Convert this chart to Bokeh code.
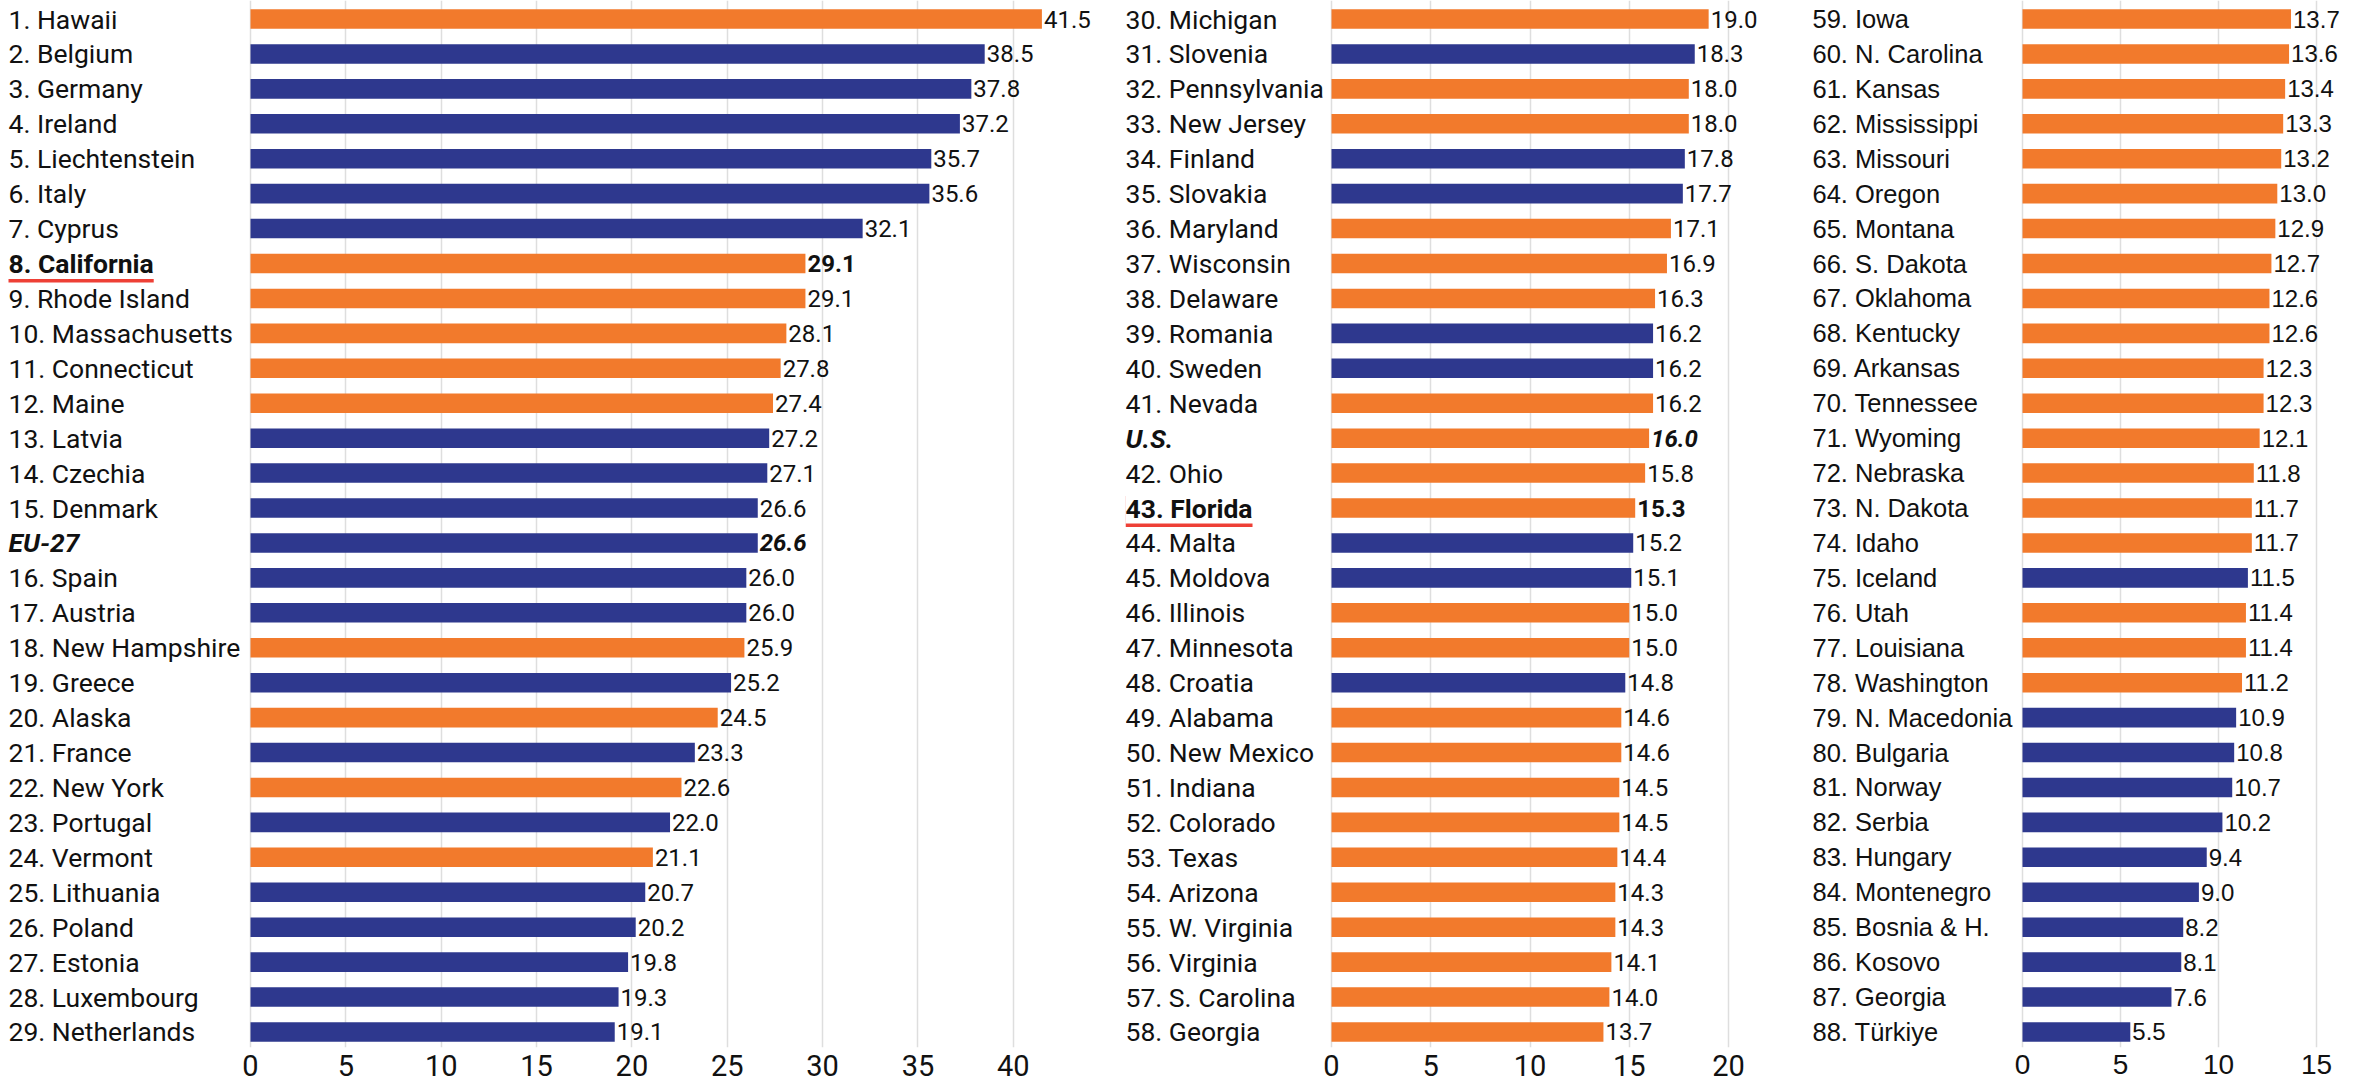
from bokeh.plotting import figure
from bokeh.layouts import row
from bokeh.models import ColumnDataSource, Range1d, FixedTicker
from bokeh.core.properties import value
from bokeh.embed import file_html
from bokeh.resources import INLINE

# ---------------- data ----------------
p1_names = ["1. Hawaii", "2. Belgium", "3. Germany", "4. Ireland", "5. Liechtenstein",
            "6. Italy", "7. Cyprus", "8. California", "9. Rhode Island", "10. Massachusetts",
            "11. Connecticut", "12. Maine", "13. Latvia", "14. Czechia", "15. Denmark",
            "EU-27", "16. Spain", "17. Austria", "18. New Hampshire", "19. Greece",
            "20. Alaska", "21. France", "22. New York", "23. Portugal", "24. Vermont",
            "25. Lithuania", "26. Poland", "27. Estonia", "28. Luxembourg", "29. Netherlands"]
p1_values = [41.5, 38.5, 37.8, 37.2, 35.7, 35.6, 32.1, 29.1, 29.1, 28.1,
             27.8, 27.4, 27.2, 27.1, 26.6, 26.6, 26.0, 26.0, 25.9, 25.2,
             24.5, 23.3, 22.6, 22.0, 21.1, 20.7, 20.2, 19.8, 19.3, 19.1]
p1_groups = ["US", "EU", "EU", "EU", "EU", "EU", "EU", "US", "US", "US",
             "US", "US", "EU", "EU", "EU", "EU", "EU", "EU", "US", "EU",
             "US", "EU", "US", "EU", "US", "EU", "EU", "EU", "EU", "EU"]

p2_names = ["30. Michigan", "31. Slovenia", "32. Pennsylvania", "33. New Jersey", "34. Finland",
            "35. Slovakia", "36. Maryland", "37. Wisconsin", "38. Delaware", "39. Romania",
            "40. Sweden", "41. Nevada", "U.S.", "42. Ohio", "43. Florida",
            "44. Malta", "45. Moldova", "46. Illinois", "47. Minnesota", "48. Croatia",
            "49. Alabama", "50. New Mexico", "51. Indiana", "52. Colorado", "53. Texas",
            "54. Arizona", "55. W. Virginia", "56. Virginia", "57. S. Carolina", "58. Georgia"]
p2_values = [19.0, 18.3, 18.0, 18.0, 17.8, 17.7, 17.1, 16.9, 16.3, 16.2,
             16.2, 16.2, 16.0, 15.8, 15.3, 15.2, 15.1, 15.0, 15.0, 14.8,
             14.6, 14.6, 14.5, 14.5, 14.4, 14.3, 14.3, 14.1, 14.0, 13.7]
p2_groups = ["US", "EU", "US", "US", "EU", "EU", "US", "US", "US", "EU",
             "EU", "US", "US", "US", "US", "EU", "EU", "US", "US", "EU",
             "US", "US", "US", "US", "US", "US", "US", "US", "US", "US"]

p3_names = ["59. Iowa", "60. N. Carolina", "61. Kansas", "62. Mississippi", "63. Missouri",
            "64. Oregon", "65. Montana", "66. S. Dakota", "67. Oklahoma", "68. Kentucky",
            "69. Arkansas", "70. Tennessee", "71. Wyoming", "72. Nebraska", "73. N. Dakota",
            "74. Idaho", "75. Iceland", "76. Utah", "77. Louisiana", "78. Washington",
            "79. N. Macedonia", "80. Bulgaria", "81. Norway", "82. Serbia", "83. Hungary",
            "84. Montenegro", "85. Bosnia & H.", "86. Kosovo", "87. Georgia", "88. Türkiye"]
p3_values = [13.7, 13.6, 13.4, 13.3, 13.2, 13.0, 12.9, 12.7, 12.6, 12.6,
             12.3, 12.3, 12.1, 11.8, 11.7, 11.7, 11.5, 11.4, 11.4, 11.2,
             10.9, 10.8, 10.7, 10.2, 9.4, 9.0, 8.2, 8.1, 7.6, 5.5]
p3_groups = ["US", "US", "US", "US", "US", "US", "US", "US", "US", "US",
             "US", "US", "US", "US", "US", "US", "EU", "US", "US", "US",
             "EU", "EU", "EU", "EU", "EU", "EU", "EU", "EU", "EU", "EU"]

p1_ticks = [0, 5, 10, 15, 20, 25, 30, 35, 40]
p2_ticks = [0, 5, 10, 15, 20]
p3_ticks = [0, 5, 10, 15]

highlight = ["8. California", "43. Florida"]
aggregates = ["EU-27", "U.S."]

US_COLOR = "#F27A2C"
EU_COLOR = "#2E388E"
UNDERLINE = "#EE4036"
TEXT = "#111111"


def make_panel(names, values, groups, ticks, width, zero_px, label_px, ppu, font,
               label_size, value_size, tick_size):
    n = len(names)
    styles = ["bold" if nm in highlight else ("bold italic" if nm in aggregates else "normal")
              for nm in names]
    colors = [US_COLOR if g == "US" else EU_COLOR for g in groups]
    src = ColumnDataSource(dict(
        y=list(range(n)), name=names, val=values,
        vtext=[f"{v:.1f}" for v in values], style=styles, color=colors))
    hi = [i for i, nm in enumerate(names) if nm in highlight]
    hi_src = ColumnDataSource(dict(y=hi, name=[names[i] for i in hi]))

    row_px = 34.93
    frame_h = 1047
    top = -18.5 / row_px
    x_start = -zero_px / ppu
    x_end = x_start + width / ppu

    p = figure(width=width, height=1089,
               x_range=Range1d(x_start, x_end),
               y_range=Range1d(top + frame_h / row_px, top),
               output_backend="svg", toolbar_location=None,
               y_axis_location=None, min_border=0, min_border_bottom=42,
               outline_line_color=None, background_fill_color="white",
               border_fill_color="white")

    p.xgrid.ticker = FixedTicker(ticks=ticks)
    p.xgrid.grid_line_color = "#dedede"
    p.xgrid.grid_line_width = 1.5
    p.ygrid.visible = False

    ax = p.xaxis[0]
    ax.ticker = FixedTicker(ticks=ticks)
    ax.axis_line_color = None
    ax.major_tick_line_color = None
    ax.minor_tick_line_color = None
    ax.major_tick_out = 0
    ax.major_tick_in = 0
    ax.major_label_standoff = 7
    ax.major_label_text_font = font
    ax.major_label_text_font_size = tick_size
    ax.major_label_text_color = TEXT

    p.hbar(y="y", left=0, right="val", height=0.56, fill_color="color",
           line_color=None, source=src)

    # underline: a red label-sized box shifted down a few pixels, covered by a
    # slightly wider white box so only the strip under the text stays visible
    if hi:
        p.text(x=0, y="y", text="name", source=hi_src,
               x_offset=-label_px, y_offset=3.5,
               text_align="left", text_baseline="middle",
               text_font=value(font), text_font_size=label_size,
               text_font_style="bold", text_alpha=0,
               background_fill_color=UNDERLINE)
        p.text(x=0, y="y", text="name", source=hi_src,
               x_offset=-label_px - 1, y_offset=0,
               text_align="left", text_baseline="middle",
               text_font=value(font), text_font_size=label_size,
               text_font_style="bold", text_alpha=0,
               background_fill_color="white",
               padding=dict(left=1, right=1, top=0, bottom=0))

    p.text(x=0, y="y", text="name", source=src, x_offset=-label_px,
           text_align="left", text_baseline="middle",
           text_font=value(font), text_font_size=label_size,
           text_font_style="style", text_color=TEXT)

    p.text(x="val", y="y", text="vtext", source=src, x_offset=2,
           text_align="left", text_baseline="middle",
           text_font=value(font), text_font_size=value_size,
           text_font_style="style", text_color=TEXT)
    return p


p1 = make_panel(p1_names, p1_values, p1_groups, p1_ticks, 1125, 250, 242, 19.07,
                "Roboto", "26.5px", "24px", "29px")
p2 = make_panel(p2_names, p2_values, p2_groups, p2_ticks, 687, 206, 206, 19.85,
                "Roboto", "26.5px", "24px", "29px")
p3 = make_panel(p3_names, p3_values, p3_groups, p3_ticks, 545, 210, 210, 19.6,
                "Liberation Sans", "25.5px", "24px", "28px")

layout = row(p1, p2, p3, spacing=0)
open("out.html", "w").write(file_html(layout, INLINE))
